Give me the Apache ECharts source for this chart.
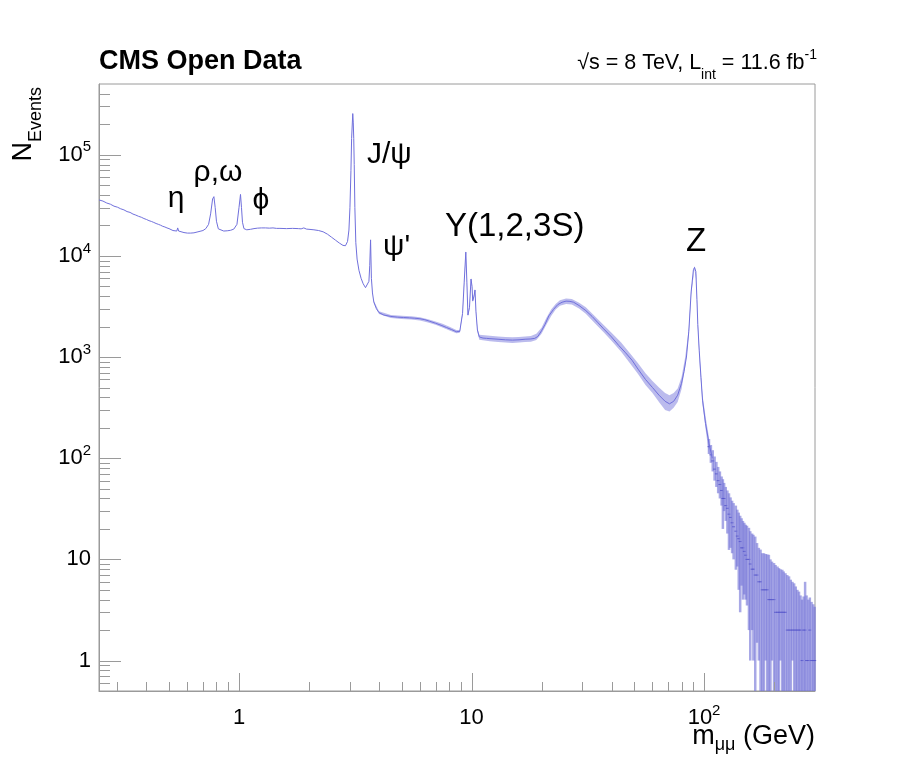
<!DOCTYPE html>
<html>
<head>
<meta charset="utf-8">
<title>CMS Open Data - dimuon spectrum</title>
<script src="https://cdn.jsdelivr.net/npm/echarts@6.0.0/dist/echarts.min.js"></script>
<style>
  html, body { margin: 0; padding: 0; background: #fff; }
  #grafica { width: 900px; height: 765px; }
</style>
</head>
<body>
<div id="grafica"></div>
<script>
// dimuon invariant mass (GeV) and event counts
const massGeV = [
  0.25, 0.26, 0.27, 0.28, 0.29, 0.30, 0.31, 0.32, 0.33, 0.34,
  0.35, 0.36, 0.37, 0.38, 0.39, 0.40, 0.41, 0.42, 0.43, 0.44,
  0.45, 0.46, 0.47, 0.48, 0.49, 0.50, 0.51, 0.52, 0.53, 0.54,
  0.545, 0.55, 0.56, 0.58, 0.60, 0.62, 0.64, 0.66, 0.68, 0.70,
  0.72, 0.74, 0.755, 0.77, 0.78, 0.79, 0.80, 0.815, 0.83, 0.86,
  0.89, 0.92, 0.95, 0.98, 1.00, 1.015, 1.025, 1.035, 1.05, 1.08,
  1.12, 1.16, 1.2, 1.25, 1.3, 1.35, 1.4, 1.45, 1.5, 1.6,
  1.7, 1.8, 1.85, 1.9, 1.95, 2.0, 2.1, 2.2, 2.3, 2.4,
  2.5, 2.6, 2.7, 2.8, 2.87, 2.93, 2.97, 3.0, 3.03, 3.05,
  3.07, 3.085, 3.10, 3.115, 3.13, 3.15, 3.18, 3.22, 3.28, 3.35,
  3.42, 3.5, 3.56, 3.62, 3.65, 3.68, 3.71, 3.75, 3.8, 3.9,
  4.0, 4.2, 4.5, 4.8, 5.1, 5.4, 5.7, 6.0, 6.3, 6.6,
  7.0, 7.4, 7.8, 8.2, 8.6, 8.9, 9.15, 9.3, 9.45, 9.55,
  9.65, 9.8, 9.95, 10.05, 10.12, 10.25, 10.35, 10.45, 10.6, 10.8,
  11.2, 11.6, 12, 13, 14, 15, 16, 17, 18, 18.7,
  19.3, 20, 20.7, 21.5, 22.5, 23.5, 24.5, 25.5, 26.5, 27.5,
  29, 31, 33, 35, 37, 40, 43, 46, 49, 52,
  56, 60, 64, 68, 71, 74, 77, 80, 82, 84,
  86, 88, 90, 91, 92.2, 93.2, 94, 95.3, 97, 98.5,
  101.5, 105, 108.5,
];
const nEvents = [
  35700, 34800, 33300, 32400, 31000, 30300, 29200, 28500, 27400, 26900,
  25900, 25300, 24600, 24100, 23400, 22900, 22300, 21900, 21400, 20900,
  20500, 20100, 19600, 19300, 18900, 18600, 18100, 17800, 17500, 17600,
  18900, 17600, 17300, 17000, 16800, 16800, 16900, 17200, 17500, 17800,
  18600, 20500, 26000, 36500, 38500, 30000, 22000, 18500, 17700, 17600,
  17700, 17900, 18400, 20500, 30000, 40500, 30000, 21500, 18600, 18100,
  18300, 18600, 18800, 18900, 18900, 18800, 18900, 18700, 18700, 18600,
  18700, 18600, 18500, 18900, 18400, 18300, 18100, 17800, 17300, 16400,
  15300, 14300, 13400, 12700, 12600, 13900, 18000, 30000, 70000, 145000,
  150000, 255000, 210000, 145000, 80000, 30000, 13500, 9300, 7200, 6000,
  5300, 4850, 4900, 5600, 8000, 14400, 6000, 4300, 3500, 3000,
  2750, 2600, 2520, 2480, 2460, 2440, 2420, 2390, 2340, 2260,
  2160, 2060, 1960, 1870, 1780, 1790, 2700, 5500, 10900, 5500,
  2600, 3100, 5900, 5000, 3600, 4000, 4600, 2800, 1850, 1580,
  1540, 1530, 1520, 1500, 1480, 1470, 1480, 1500, 1510, 1530,
  1600, 1820, 2100, 2550, 2950, 3300, 3480, 3570, 3550, 3480,
  3230, 2880, 2520, 2180, 1900, 1580, 1300, 1100, 930, 760,
  600, 500, 420, 365, 345, 365, 420, 550, 720, 1000,
  1800, 4400, 7300, 7700, 7000, 3700, 2100, 1170, 630, 375,
  220, 140, 100,
];

// spread of the noisy histogram between 3.8 and 105 GeV (lower / upper edge)
const bandMassGeV = [
  3.8, 4.0, 4.5, 5.0, 5.5, 6.0, 6.5, 7.0, 7.5, 8.0,
  8.6, 8.9, 9.15, 9.3, 9.45, 9.55, 9.65, 9.8, 9.95, 10.05,
  10.12, 10.25, 10.35, 10.45, 10.6,
  10.8, 12, 13, 14, 15, 16, 17, 18, 19, 20,
  21, 22, 23, 24, 25.5, 27, 29, 31, 34, 37,
  40, 44, 48, 52, 56, 60, 64, 68, 71, 74,
  77, 80, 83, 86, 88, 91, 92.5, 94, 96, 98.5,
  102, 105,
];
const bandLow = [
  3400, 2660, 2430, 2380, 2350, 2300, 2200, 2080, 1960, 1840,
  1720, 1740, 2600, 5300, 10500, 5300, 2500, 3000, 5700, 4800,
  3450, 3850, 4450, 2700, 1780,
  1480, 1430, 1410, 1390, 1380, 1390, 1410, 1420, 1470, 1700,
  2100, 2550, 2950, 3220, 3350, 3300, 3020, 2680, 2150, 1760,
  1450, 1130, 870, 680, 530, 440, 360, 300, 290, 315,
  360, 480, 800, 1650, 4150, 7400, 5800, 1950, 780, 340,
  180, 110,
];
const bandHigh = [
  3600, 2840, 2610, 2560, 2530, 2480, 2370, 2240, 2130, 2000,
  1850, 1850, 2800, 5700, 11300, 5700, 2700, 3200, 6100, 5200,
  3750, 4150, 4750, 2900, 1930,
  1660, 1620, 1600, 1580, 1570, 1580, 1600, 1610, 1700, 1950,
  2450, 2950, 3350, 3650, 3800, 3750, 3450, 3100, 2520, 2070,
  1740, 1390, 1090, 870, 690, 580, 500, 440, 420, 440,
  490, 630, 1000, 1950, 4650, 8000, 6600, 2300, 920, 420,
  240, 160,
];

// high-mass tail: counts with their error bars
const tailMassGeV = [
  105, 107, 109, 111, 113, 115, 117, 119, 120.5, 122,
  124, 126, 128, 130, 132, 134, 137, 139, 141, 143,
  145, 147, 149, 151, 153, 156, 158, 161, 163, 166,
  169, 172, 175, 178, 181, 184, 187, 190, 193, 196,
  200, 203, 207, 210, 213, 217, 220, 224, 228, 232,
  236, 240, 244, 248, 252, 256, 260, 264, 268, 272,
  276, 281, 285, 290, 295, 299,
];
const tailEvents = [
  130, 108, 94, 78, 70, 60, 55, 48, 40, 40,
  34, 32, 28, 26, 23, 21, 19, 17, 16, 15,
  13, 13, 12, 11, 10, 10, 9, 8, 8, 7,
  7, 6, 6, 5, 5, 5, 5, 4, 4, 4,
  4, 3, 3, 3, 3, 3, 3, 3, 2, 2,
  2, 2, 2, 2, 2, 2, 2, 1, 2, 2,
  1, 1, 2, 1, 1, 1,
];
const tailLow = [
  110, 90, 74, 60, 52, 45, 40, 34, 20, 30,
  24, 18, 12.4, 13, 11.5, 10, 7.9, 8.5, 5, 3,
  5.5, 4, 4.5, 4, 3.5, 2, 1, 2, 1, 0,
  1.5, 1, 0, 0, 0, 1, 0, 0, 0, 1,
  0, 0, 0, 0, 1, 0, 0, 0, 0, 0,
  0, 1, 0, 0, 0, 0, 0, 0, 0, 0,
  0, 0, 0, 0, 0, 0,
];
const tailHigh = [
  155, 135, 120, 104, 92, 82, 74, 66, 62, 57,
  52, 48, 45, 41, 38, 36, 34, 31, 29, 27,
  25.5, 24, 23, 22, 21.5, 20.5, 19, 18, 17.5, 16.8,
  14.5, 13, 12.5, 11.5, 11.5, 11.3, 11.2, 11.1, 10, 9.5,
  9.2, 8.8, 8.5, 8.2, 8.0, 7.9, 7.6, 7.3, 7.0, 6.8,
  6.3, 6.0, 5.8, 5.4, 5.0, 4.8, 4.4, 4.0, 4.3, 6.0,
  4.4, 4.0, 4.2, 3.8, 3.6, 3.4,
];

const X_MIN = 0.25;
const X_MAX = 300;
const Y_MIN = 0.5;
const Y_MAX = 5e5;

const FONT = '"Liberation Sans", Arial, Helvetica, sans-serif';
const LINE_COLOR = "rgb(112,112,220)";
const FRAME_COLOR = "#9a9a9a";

// ticks of the log axes (ROOT style: long at decades, short in between)
const xMajorTicks = [1, 10, 100];
const yMajorTicks = [1, 10, 100, 1000, 10000, 100000];
const xMinorTicks = [];
const yMinorTicks = [];
[0.1, 1, 10, 100].forEach((d) => {
  for (let m = 2; m <= 9; m++) {
    const v = +(d * m).toPrecision(3);
    if (v > X_MIN && v < X_MAX) xMinorTicks.push(v);
  }
});
[0.1, 1, 10, 100, 1000, 10000, 100000].forEach((d) => {
  for (let m = 2; m <= 9; m++) {
    const v = +(d * m).toPrecision(3);
    if (v > Y_MIN && v < Y_MAX) yMinorTicks.push(v);
  }
});

const decadeLabel = (value) => {
  const e = Math.round(Math.log10(value));
  if (Math.abs(Math.log10(value) - e) > 1e-6) return "";
  if (e === 0) return "1";
  if (e === 1) return "10";
  return "10{sup|" + e + "}";
};

const labelRich = {
  sup: { fontSize: 15, fontFamily: FONT, color: "#000", padding: [0, 0, 15, 0] },
};

const lineData = massGeV.map((m, i) => [m, nEvents[i]]);
const tailData = tailMassGeV.map((m, i) => [m, tailEvents[i], tailLow[i], tailHigh[i]]);
const yTickData = yMajorTicks.map((v) => [X_MIN, v, 22]).concat(yMinorTicks.map((v) => [X_MIN, v, 11]));
const xTickData = xMajorTicks.map((v) => [v, Y_MIN, 18]).concat(xMinorTicks.map((v) => [v, Y_MIN, 9]));

const textStyle = (text, size, align) => ({
  text: text,
  font: size + "px " + FONT,
  fill: "#000",
  align: align,
  verticalAlign: "middle",
});

const option = {
  animation: false,
  backgroundColor: "#fff",
  grid: {
    left: 99,
    top: 84,
    width: 716,
    height: 607,
    show: true,
    borderColor: FRAME_COLOR,
    borderWidth: 1,
    containLabel: false,
  },
  xAxis: {
    type: "log",
    logBase: 10,
    min: X_MIN,
    max: X_MAX,
    axisLine: { lineStyle: { color: FRAME_COLOR } },
    axisTick: { show: false },
    splitLine: { show: false },
    minorTick: { show: false },
    axisLabel: {
      formatter: decadeLabel,
      fontSize: 22,
      fontFamily: FONT,
      color: "#000",
      lineHeight: 30,
      margin: 12,
      rich: labelRich,
    },
  },
  yAxis: {
    type: "log",
    logBase: 10,
    min: Y_MIN,
    max: Y_MAX,
    axisLine: { lineStyle: { color: FRAME_COLOR } },
    axisTick: { show: false },
    splitLine: { show: false },
    minorTick: { show: false },
    axisLabel: {
      formatter: decadeLabel,
      fontSize: 22,
      fontFamily: FONT,
      color: "#000",
      lineHeight: 30,
      margin: 8,
      rich: labelRich,
    },
  },
  series: [
    {
      // noisy band of the histogram
      type: "custom",
      coordinateSystem: "cartesian2d",
      silent: true,
      z: 1,
      data: [[bandMassGeV[0], bandLow[0]]],
      renderItem: (params, api) => {
        const pts = [];
        bandMassGeV.forEach((m, i) => pts.push(api.coord([m, bandHigh[i]])));
        for (let i = bandMassGeV.length - 1; i >= 0; i--) {
          pts.push(api.coord([bandMassGeV[i], bandLow[i]]));
        }
        return {
          type: "polygon",
          shape: { points: pts },
          style: { fill: "rgba(120,120,220,0.5)", stroke: null },
        };
      },
    },
    {
      type: "line",
      data: lineData,
      showSymbol: false,
      z: 2,
      lineStyle: { color: LINE_COLOR, width: 1 },
    },
    {
      // error bars in the sparse tail
      type: "custom",
      coordinateSystem: "cartesian2d",
      silent: true,
      z: 2,
      data: tailData,
      renderItem: (params, api) => {
        const m = api.value(0);
        const top = api.coord([m, api.value(3)]);
        const bot = api.coord([m, Math.max(api.value(2), Y_MIN)]);
        const mid = api.coord([m, api.value(1)]);
        return {
          type: "group",
          children: [
            {
              type: "line",
              shape: { x1: top[0], y1: top[1], x2: bot[0], y2: bot[1] },
              style: { stroke: "rgba(115,115,215,0.62)", lineWidth: 2.5 },
            },
            {
              type: "line",
              shape: { x1: mid[0] - 1.5, y1: mid[1], x2: mid[0] + 1.5, y2: mid[1] },
              style: { stroke: "rgba(80,80,200,0.8)", lineWidth: 1 },
            },
          ],
        };
      },
    },
    {
      // y axis ticks
      type: "custom",
      coordinateSystem: "cartesian2d",
      silent: true,
      z: 3,
      data: yTickData,
      renderItem: (params, api) => {
        const p = api.coord([api.value(0), api.value(1)]);
        const y = Math.round(p[1]) + 0.5;
        return {
          type: "line",
          shape: { x1: p[0], y1: y, x2: p[0] + api.value(2), y2: y },
          style: { stroke: FRAME_COLOR, lineWidth: 1 },
        };
      },
    },
    {
      // x axis ticks
      type: "custom",
      coordinateSystem: "cartesian2d",
      silent: true,
      z: 3,
      data: xTickData,
      renderItem: (params, api) => {
        const p = api.coord([api.value(0), api.value(1)]);
        const x = Math.round(p[0]) + 0.5;
        return {
          type: "line",
          shape: { x1: x, y1: p[1], x2: x, y2: p[1] - api.value(2) },
          style: { stroke: FRAME_COLOR, lineWidth: 1 },
        };
      },
    },
  ],
  graphic: [
    {
      type: "text",
      x: 99,
      y: 61.5,
      style: {
        text: "CMS Open Data",
        font: "bold 27px " + FONT,
        fill: "#000",
        align: "left",
        verticalAlign: "middle",
      },
    },
    {
      type: "text",
      x: 817,
      y: 63,
      style: {
        text: "√s = 8 TeV, L{sub|int} = 11.6 fb{sup|-1}",
        font: "21.5px " + FONT,
        fill: "#000",
        align: "right",
        verticalAlign: "middle",
        rich: {
          sub: { fontSize: 14, fontFamily: FONT, fill: "#000", padding: [24, 0, 0, 0] },
          sup: { fontSize: 14, fontFamily: FONT, fill: "#000", padding: [0, 0, 15, 0] },
        },
      },
    },
    {
      type: "text",
      x: 24,
      y: 87,
      rotation: Math.PI / 2,
      style: {
        text: "N{sub|Events}",
        font: "27px " + FONT,
        fill: "#000",
        align: "right",
        verticalAlign: "middle",
        rich: {
          sub: { fontSize: 18, fontFamily: FONT, fill: "#000", padding: [24, 0, 0, 0] },
        },
      },
    },
    {
      type: "text",
      x: 815,
      y: 737,
      style: {
        text: "m{sub|μμ} (GeV)",
        font: "27px " + FONT,
        fill: "#000",
        align: "right",
        verticalAlign: "middle",
        rich: {
          sub: { fontSize: 18, fontFamily: FONT, fill: "#000", padding: [16, 0, 0, 0] },
        },
      },
    },
    // resonance names
    { type: "text", x: 176, y: 199, style: textStyle("η", 30, "center") },
    { type: "text", x: 218, y: 173, style: textStyle("ρ,ω", 30, "center") },
    { type: "text", x: 261, y: 201, style: textStyle("ϕ", 30, "center") },
    { type: "text", x: 367, y: 155, style: textStyle("J/ψ", 30, "left") },
    { type: "text", x: 383, y: 247, style: textStyle("ψ'", 30, "left") },
    { type: "text", x: 445, y: 227, style: textStyle("Υ(1,2,3S)", 33, "left") },
    { type: "text", x: 696, y: 242, style: textStyle("Z", 33, "center") },
  ],
};

const createEcharts = () => {
  const myChart = echarts.init(document.querySelector("#grafica"), null, { renderer: "canvas" });
  myChart.setOption(option);
};

window.addEventListener("DOMContentLoaded", () => {
  createEcharts();
});
</script>
</body>
</html>
